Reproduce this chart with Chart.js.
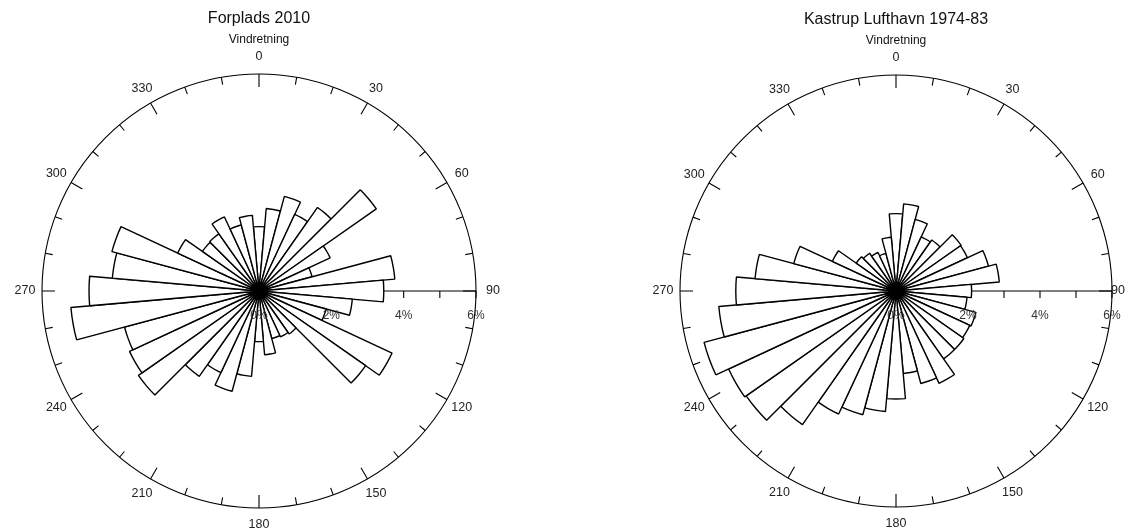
<!DOCTYPE html>
<html><head><meta charset="utf-8">
<script src="https://cdn.jsdelivr.net/npm/chart.js@4.4.1/dist/chart.umd.min.js"></script>
<style>
html,body{margin:0;padding:0;background:#fff;}
#wrap{position:relative;width:1138px;height:530px;overflow:hidden;background:#fff;}
.c{position:absolute;top:0;width:569px;height:530px;}
</style></head><body>
<div id="wrap">
<div class="c" style="left:0"><canvas id="c1" width="569" height="530"></canvas></div>
<div class="c" style="left:569px"><canvas id="c2" width="569" height="530"></canvas></div>
</div>
<script>
// Wind direction categories (degrees)
const directions = [0,10,20,30,40,50,60,70,80,90,100,110,120,130,140,150,160,170,180,190,200,210,220,230,240,250,260,270,280,290,300,310,320,330,340,350];
// Frequency (%) per direction
const forplads2010 = [1.78,2.29,2.71,2.34,2.82,3.96,2.17,1.52,3.77,3.45,2.59,1.92,4.06,3.60,1.45,1.40,1.36,1.77,1.40,2.37,2.87,2.49,2.88,4.07,3.95,3.85,5.22,4.70,4.07,4.21,2.48,1.91,1.93,2.26,1.89,2.10];
const kastrup7483 = [2.15,2.43,2.06,1.66,1.73,2.21,2.19,2.66,2.88,2.10,1.98,2.30,2.26,2.30,2.30,2.83,2.66,2.30,3.00,3.36,3.56,3.77,4.53,5.08,5.13,5.52,4.94,4.45,3.93,2.94,1.95,1.35,1.28,1.18,1.08,1.50];
// Compass tick labels
const angleLabelValues = [0,30,60,90,120,150,180,210,240,270,300,330];
const angleLabels = ['0','30','60','90','120','150','180','210','240','270','300','330'];
// Radial (percent) axis
const radialMax = 6;
const radialTickValues = [1,2,3,4,5,6];
const radialLabelValues = [0,2,4,6];
const radialLabels = ['0%','2%','4%','6%'];
const subtitle = 'Vindretning';

const FONT = '"Liberation Sans", Arial, sans-serif';

function decor(title) {
  return {
    id: 'decor',
    beforeDatasetsDraw(chart) {
      const s = chart.scales.r, ctx = chart.ctx;
      const cx = s.xCenter, cy = s.yCenter, R = s.drawingArea;
      ctx.save();
      ctx.strokeStyle = '#000';
      ctx.lineWidth = 1.1;
      // radial axis along 90 degrees
      ctx.beginPath();
      ctx.moveTo(cx, cy);
      ctx.lineTo(cx + s.getDistanceFromCenterForValue(radialMax), cy);
      radialTickValues.forEach(v => {
        const d = s.getDistanceFromCenterForValue(v);
        ctx.moveTo(cx + d, cy);
        ctx.lineTo(cx + d, cy + 7);
      });
      ctx.stroke();
      // compass ticks on the outer circle
      ctx.beginPath();
      directions.forEach(a => {
        const len = (a % 30 === 0) ? 13 : 7.5;
        const t = a * Math.PI / 180;
        const sx = Math.sin(t), sy = -Math.cos(t);
        ctx.moveTo(cx + sx * R, cy + sy * R);
        ctx.lineTo(cx + sx * (R - len), cy + sy * (R - len));
      });
      ctx.stroke();
      ctx.restore();
    },
    afterDatasetsDraw(chart) {
      const s = chart.scales.r, ctx = chart.ctx;
      const cx = s.xCenter, cy = s.yCenter, R = s.drawingArea;
      ctx.save();
      ctx.fillStyle = '#333';
      ctx.font = '12px ' + FONT;
      ctx.textAlign = 'center';
      ctx.textBaseline = 'middle';
      radialLabelValues.forEach((v, i) => {
        ctx.fillText(radialLabels[i], cx + s.getDistanceFromCenterForValue(v), cy + 25);
      });
      ctx.fillStyle = '#222';
      ctx.font = '12.5px ' + FONT;
      angleLabelValues.forEach((a, i) => {
        const t = a * Math.PI / 180;
        const r = R + 17;
        let x = cx + Math.sin(t) * r;
        x = Math.min(x, chart.width - 20);
        ctx.fillText(angleLabels[i], x, cy - Math.cos(t) * r);
      });
      ctx.fillStyle = '#111';
      ctx.font = '12px ' + FONT;
      ctx.fillText(subtitle, cx, cy - R - 34);
      ctx.font = '16px ' + FONT;
      ctx.fillText(title, cx, cy - R - 55);
      ctx.restore();
    }
  };
}

function makeChart(id, values, title, pad) {
  return new Chart(document.getElementById(id), {
    type: 'polarArea',
    data: {
      labels: directions.map(String),
      datasets: [{
        data: values,
        backgroundColor: '#ffffff',
        borderColor: '#000000',
        borderWidth: 1.4
      }]
    },
    options: {
      responsive: false,
      animation: false,
      layout: { padding: pad },
      plugins: { legend: { display: false }, tooltip: { enabled: false }, title: { display: false } },
      scales: {
        r: {
          min: 0, max: radialMax,
          startAngle: -5,
          ticks: { display: false, stepSize: 1 },
          grid: {
            circular: true,
            color: c => (c.tick && c.tick.value === radialMax) ? '#000' : 'rgba(0,0,0,0)',
            lineWidth: 1.1
          },
          angleLines: { display: false },
          pointLabels: { display: false }
        }
      }
    },
    plugins: [decor(title)]
  });
}

makeChart('c1', forplads2010, 'Forplads 2010', { left: 42, top: 74, right: 93, bottom: 22 });
makeChart('c2', kastrup7483, 'Kastrup Lufthavn 1974-83', { left: 111, top: 75, right: 26, bottom: 23 });
</script>
</body></html>
